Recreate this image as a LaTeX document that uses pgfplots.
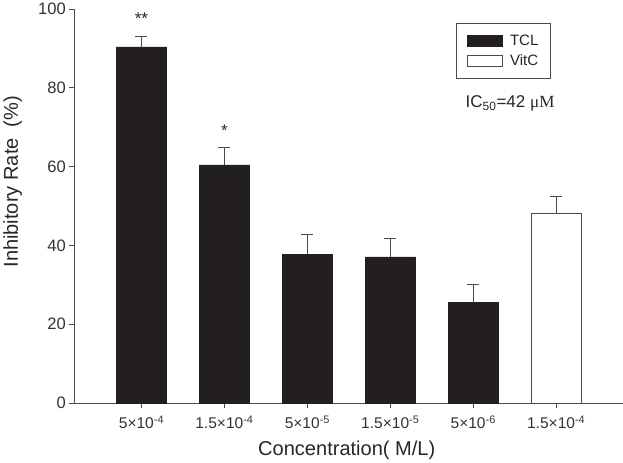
\documentclass[border=0pt]{standalone}
\usepackage{pgfplots}
\pgfplotsset{compat=1.18}
\usepackage{fontspec}
\setmainfont{Liberation Sans}
\newfontfamily\seriffont{Liberation Serif}
\definecolor{barfill}{HTML}{231F20}
\definecolor{axgray}{HTML}{4A4A4A}
\begin{document}
\begin{tikzpicture}
\begin{axis}[
  scale only axis,
  width=547pt, height=393pt,
  xmin=0.19, xmax=6.8,
  ymin=0, ymax=100,
  axis x line*=bottom,
  axis y line*=left,
  axis line style={axgray, line width=1pt, -},
  tick style={axgray, line width=1pt},
  tick align=outside,
  major tick length=5pt,
  ytick={0,20,40,60,80,100},
  xtick={1,2,3,4,5,6},
  xticklabels={5×10\textsuperscript{-4},1.5×10\textsuperscript{-4},5×10\textsuperscript{-5},1.5×10\textsuperscript{-5},5×10\textsuperscript{-6},1.5×10\textsuperscript{-4}},
  /pgf/number format/assume math mode=true,
  yticklabel style={font=\fontsize{16.5}{18}\selectfont, text=black!80},
  xticklabel style={font=\fontsize{15.5}{17}\selectfont, text=black!80, yshift=-4pt},
  xlabel={Concentration( M/L)},
  ylabel={Inhibitory Rate\ \ (\%)},
  label style={font=\fontsize{20}{22}\selectfont, text=black!85},
  xlabel style={at={(axis description cs:0.497,0)}, anchor=base, yshift=-52pt},
  ylabel style={at={(axis description cs:-0.1124,0.562)}, anchor=center},
  ybar, bar width=0.605, bar shift=0pt,
  clip=false,
  legend style={at={(rel axis cs:0.697,0.964)}, anchor=north west, draw=axgray, line width=1pt,
    font=\fontsize{15}{17}\selectfont, inner xsep=10pt, inner ysep=9pt, row sep=4pt, text=black!85,
    /tikz/every odd column/.append style={column sep=5pt}},
  legend cell align=left,
  legend image code/.code={\draw[#1, line width=1pt] (0pt,-5.5pt) rectangle (35pt,5.5pt);},
]
\addplot[fill=barfill, draw=barfill, error bars/.cd, y dir=plus, y explicit,
  error bar style={line width=1.2pt, axgray}, error mark options={rotate=90, mark size=6pt, line width=1.2pt, axgray}]
  table[x=x, y=y, y error=e] {
x y e
1 90.4 2.7
2 60.5 4.3
3 37.8 5.0
4 37.1 4.7
5 25.5 4.6
};
\addlegendentry{TCL}
\addplot[fill=white, draw=axgray, line width=1pt, error bars/.cd, y dir=plus, y explicit,
  error bar style={line width=1.2pt, axgray}, error mark options={rotate=90, mark size=6pt, line width=1.2pt, axgray}]
  table[x=x, y=y, y error=e] {
x y e
6 48.2 4.2
};
\addlegendentry{VitC}
\node[font=\fontsize{17}{19}\selectfont, text=black!85] at (axis cs:1,97.6) {**};
\node[font=\fontsize{17}{19}\selectfont, text=black!85] at (axis cs:2,69.2) {*};
\node[anchor=west, font=\fontsize{17}{19}\selectfont, text=black!85] at (rel axis cs:0.7075,0.761) {IC\textsubscript{50}=42 {\seriffont μM}};
\end{axis}
\end{tikzpicture}
\end{document}
